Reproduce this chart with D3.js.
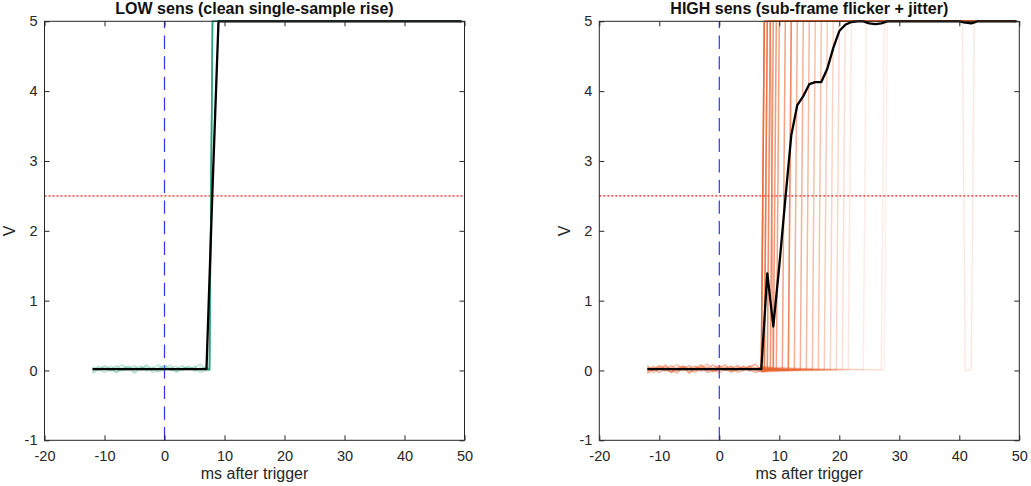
<!DOCTYPE html>
<html>
<head>
<meta charset="utf-8">
<script src="https://cdn.jsdelivr.net/npm/d3@7"></script>
<style>
  body { margin: 0; background: #fff; }
  text { font-family: "Liberation Sans", Arial, Helvetica, sans-serif; }
</style>
</head>
<body>
<script>
// ---- data ----
const xTicks = [-20, -10, 0, 10, 20, 30, 40, 50];
const yTicks = [-1, 0, 1, 2, 3, 4, 5];
const threshold = 2.5;     // V, red dotted line
const triggerAt = 0;       // ms, blue dashed line
const sampleStep = 0.5;    // ms between samples of a trace
const traceEnd = 49.5;     // last sample, ms

// baseline samples (1 ms apart, -12 .. 7 ms) for the raw traces
const baseTimes = [-12, -11, -10, -9, -8, -7, -6, -5, -4, -3, -2, -1, 0, 1, 2, 3, 4, 5, 6, 7];
const noiseRows = [
  [0.03, 0.00, 0.05, 0.01, -0.02, 0.04, 0.06, 0.02, 0.03, 0.08, 0.01, 0.02, 0.05, 0.00, 0.03, 0.07, 0.02, 0.04, 0.09, 0.01],
  [-0.02, 0.04, 0.01, 0.06, 0.02, -0.01, 0.03, 0.07, 0.00, 0.02, 0.05, -0.02, 0.01, 0.04, 0.06, 0.00, 0.03, 0.01, 0.02, 0.05],
  [0.05, 0.02, -0.03, 0.02, 0.07, 0.01, 0.00, 0.04, 0.06, -0.01, 0.03, 0.08, 0.02, 0.01, -0.02, 0.05, 0.01, 0.06, 0.00, 0.02],
  [0.00, 0.06, 0.03, -0.01, 0.04, 0.08, 0.02, -0.02, 0.05, 0.03, 0.00, 0.04, 0.07, 0.03, 0.01, 0.02, 0.05, -0.01, 0.04, 0.03],
  [-0.04, 0.01, 0.07, 0.03, -0.03, 0.02, 0.05, -0.04, 0.02, 0.06, -0.03, 0.00, 0.04, 0.08, -0.02, 0.01, 0.06, 0.02, -0.03, 0.00],
  [0.07, -0.03, 0.02, 0.08, 0.00, -0.04, 0.06, 0.01, -0.03, 0.04, 0.09, 0.02, -0.04, 0.03, 0.05, -0.03, 0.00, 0.07, 0.03, -0.02]
];

// LOW sens: every trace rises in one sample at 8 ms
const lowRiseTimes = [8, 8, 8, 8, 8];
const lowNoise     = [0, 1, 2, 3, 4];
const lowMeanT = [-12, 7, 8, 9, 49.5];
const lowMeanV = [0.02, 0.02, 2.6, 5, 5];

// HIGH sens: rise times jitter, later ones fainter
const highRiseTimes = [7.5, 7.5, 8, 8.5, 9, 9.5, 10, 11, 12, 13, 14, 15, 16, 17, 18, 19, 20, 21, 22, 24.5, 27.5, 28];
const highAlpha     = [0.8, 0.8, 0.75, 0.7, 0.7, 0.65, 0.6, 0.6, 0.55, 0.5, 0.5, 0.45, 0.4, 0.38, 0.32, 0.28, 0.25, 0.2, 0.15, 0.12, 0.12, 0.1];
const highNoise     = [0, 1, 2, 3, 4, 5, 0, 1, 2, 3, 4, 5, 0, 1, 2, 3, 4, 5, 0, 1, 2, 3];
// flicker traces: [time, new level] edges
const flickerEdges = [
  [[8, 5], [9, 0], [12, 5]],
  [[8.5, 5], [41, 0], [42.5, 5]]
];
const flickerAlpha = [0.5, 0.14];
const flickerNoise = [4, 5];

const highMeanT = [-12, 7, 8, 9, 10, 11, 12, 13, 14, 15, 16, 17, 18, 19, 20, 21, 22, 23, 24, 25, 26, 27, 28, 40, 41, 42, 43, 49.5];
const highMeanV = [0.02, 0.02, 1.39, 0.63, 1.5, 2.45, 3.37, 3.8, 3.93, 4.1, 4.13, 4.13, 4.32, 4.62, 4.86, 4.95, 4.99, 5, 5, 4.97, 4.96, 4.97, 5, 5, 4.98, 4.97, 5, 5];

// ---- layout ----
const W = 1031, H = 486;
const yTop = 21.3, yBot = 440.3;

const svg = d3.select('body').append('svg')
    .attr('width', W)
    .attr('height', H);

// one step-trace: noisy baseline, then a sample-wide jump at every edge
function tracePoints(noise, edges) {
    var pts = baseTimes.map(function (t, i) { return [t, noise[i]]; });
    var level = 0.01, last = baseTimes[baseTimes.length - 1];
    edges.forEach(function (e) {
        if (e[0] - sampleStep > last) pts.push([e[0] - sampleStep, level]);
        pts.push([e[0], e[1]]);
        level = e[1] === 0 ? 0.01 : e[1];
        last = e[0];
    });
    pts.push([traceEnd, level]);
    return pts;
}

function drawPanel(x0, x1, title, traces, color, baseFade, meanT, meanV) {
    var x = d3.scaleLinear().domain([-20, 50]).range([x0, x1]);
    var y = d3.scaleLinear().domain([-1, 5]).range([yBot, yTop]);
    var g = svg.append('g');

    // reference lines
    g.append('line')
        .attr('x1', x(triggerAt)).attr('x2', x(triggerAt))
        .attr('y1', y(-1)).attr('y2', y(5))
        .attr('stroke', '#3333ff').attr('stroke-width', 1.2)
        .attr('stroke-dasharray', '13.3,7.3');
    g.append('line')
        .attr('x1', x(-20)).attr('x2', x(50))
        .attr('y1', y(threshold)).attr('y2', y(threshold))
        .attr('stroke', '#ff1a1a').attr('stroke-width', 1.1)
        .attr('stroke-dasharray', '2,2');

    var line = d3.line().x(function (d) { return x(d[0]); }).y(function (d) { return y(d[1]); });
    var nb = baseTimes.length;

    // pre-trigger noise is drawn fainter than the rest of each trace
    var gt = g.append('g').attr('fill', 'none').attr('stroke', color)
        .attr('stroke-width', 1.5).attr('stroke-linejoin', 'round');
    gt.selectAll('path.base')
        .data(traces)
        .join('path')
        .attr('class', 'base')
        .attr('d', function (d) { return line(d.pts.slice(0, nb)); })
        .attr('stroke-opacity', function (d) { return d.alpha * baseFade; });
    gt.selectAll('path.step')
        .data(traces)
        .join('path')
        .attr('class', 'step')
        .attr('d', function (d) { return line(d.pts.slice(nb - 1)); })
        .attr('stroke-opacity', function (d) { return d.alpha; });

    g.append('path')
        .attr('d', line(meanT.map(function (t, i) { return [t, meanV[i]]; })))
        .attr('fill', 'none')
        .attr('stroke', '#000')
        .attr('stroke-width', 2.3)
        .attr('stroke-linejoin', 'round');

    // box + inward ticks on all four sides
    g.append('rect')
        .attr('x', x0).attr('y', yTop)
        .attr('width', x1 - x0).attr('height', yBot - yTop)
        .attr('fill', 'none').attr('stroke', '#262626').attr('stroke-width', 1);

    var fmt = function (d) { return String(d); };
    var axes = [
        [d3.axisBottom(x).tickValues(xTicks).tickFormat(fmt).tickPadding(10), 'translate(0,' + yBot + ')'],
        [d3.axisTop(x).tickValues(xTicks).tickFormat(''), 'translate(0,' + yTop + ')'],
        [d3.axisLeft(y).tickValues(yTicks).tickFormat(fmt).tickPadding(7), 'translate(' + x0 + ',0)'],
        [d3.axisRight(y).tickValues(yTicks).tickFormat(''), 'translate(' + x1 + ',0)']
    ];
    axes.forEach(function (a) {
        var ax = g.append('g')
            .attr('transform', a[1])
            .call(a[0].tickSizeInner(-5).tickSizeOuter(0));
        ax.select('.domain').remove();
        ax.selectAll('line').attr('stroke', '#262626');
        ax.selectAll('text')
            .attr('fill', '#262626')
            .style('font-size', '14.5px')
            .style('font-family', '"Liberation Sans", Arial, sans-serif');
    });

    g.append('text')
        .attr('x', (x0 + x1) / 2).attr('y', 14)
        .attr('text-anchor', 'middle')
        .attr('font-weight', 'bold')
        .attr('font-size', 16)
        .attr('fill', '#111')
        .text(title);

    g.append('text')
        .attr('x', (x0 + x1) / 2).attr('y', 479)
        .attr('text-anchor', 'middle')
        .attr('font-size', 16)
        .attr('fill', '#262626')
        .text('ms after trigger');

    g.append('text')
        .attr('transform', 'translate(' + (x0 - 29.5) + ',' + ((yTop + yBot) / 2) + ') rotate(-90)')
        .attr('text-anchor', 'middle')
        .attr('font-size', 16)
        .attr('fill', '#262626')
        .text('V');
}

var lowTraces = lowRiseTimes.map(function (t, i) {
    return { pts: tracePoints(noiseRows[lowNoise[i]], [[t, 5]]), alpha: 0.45 };
});

var highTraces = highRiseTimes.map(function (t, i) {
    return { pts: tracePoints(noiseRows[highNoise[i]], [[t, 5]]), alpha: highAlpha[i] };
}).concat(flickerEdges.map(function (e, i) {
    return { pts: tracePoints(noiseRows[flickerNoise[i]], e), alpha: flickerAlpha[i] };
}));

drawPanel(44.5, 464.5, 'LOW sens (clean single-sample rise)', lowTraces, '#1b9e77', 0.6, lowMeanT, lowMeanV);
drawPanel(599.3, 1019.3, 'HIGH sens (sub-frame flicker + jitter)', highTraces, '#ec6430', 0.3, highMeanT, highMeanV);
</script>
</body>
</html>
